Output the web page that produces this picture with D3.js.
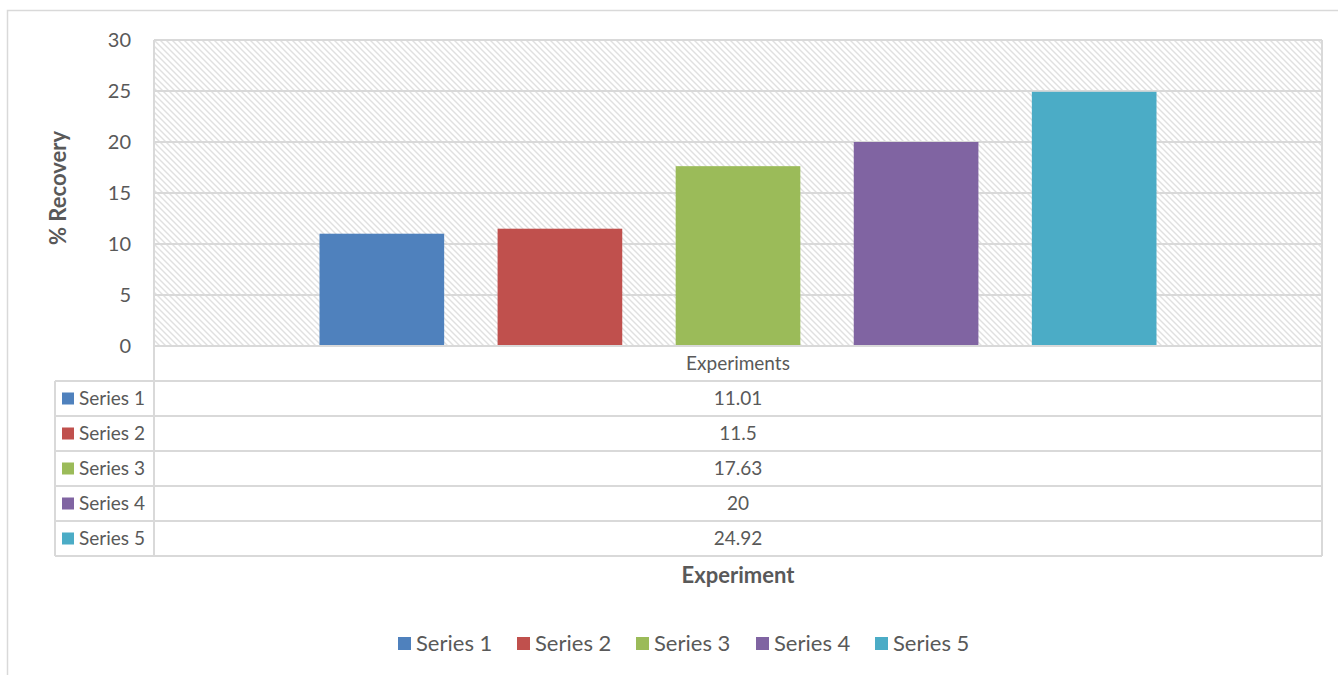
<!DOCTYPE html>
<html>
<head>
<meta charset="utf-8">
<script src="https://cdn.jsdelivr.net/npm/d3@7"></script>
<style>
  body { margin: 0; background: #fff; }
  text { font-family: Lato, "Open Sans", sans-serif; fill: #595959; }
</style>
</head>
<body>
<div id="target"></div>
<script>
// chart data
let category = "Experiments"
let seriesNames = ["Series 1", "Series 2", "Series 3", "Series 4", "Series 5"]
let seriesValues = [11.01, 11.5, 17.63, 20, 24.92]
let seriesColors = ["#4f81bd", "#c0504d", "#9bbb59", "#8064a2", "#4bacc6"]
let yTicks = [0, 5, 10, 15, 20, 25, 30]

let width = 1338, height = 675
let plot = { left: 154, right: 1322, top: 40, bottom: 346 }
let rowH = 35
let tableLeft = 55

let svg = d3.select("#target").append("svg")
    .attr("width", width)
    .attr("height", height)

// hatch pattern for plot background
let defs = svg.append("defs")
let pat = defs.append("pattern")
    .attr("id", "hatch")
    .attr("patternUnits", "userSpaceOnUse")
    .attr("width", 6).attr("height", 6)
pat.append("rect").attr("width", 6).attr("height", 6).attr("fill", "#fff")
pat.append("path")
    .attr("d", "M-1,-1 L7,7 M-7,-1 L1,7 M5,-1 L13,7")
    .attr("stroke", "#e0e0e0").attr("stroke-width", 1.4)

// outer chart border
svg.append("rect")
    .attr("x", 7.5).attr("y", 10.5)
    .attr("width", 1400).attr("height", 700)
    .attr("fill", "none").attr("stroke", "#d9d9d9").attr("stroke-width", 1.5)

let y = d3.scaleLinear().domain([0, 30]).range([plot.bottom, plot.top])
let x0 = d3.scaleBand().domain([category]).range([plot.left, plot.right])
let x1 = d3.scaleBand().domain(seriesNames)
    .range([x0(category) + 165.5, x0(category) + x0.bandwidth() - 165.5])
    .paddingInner(0.3)

svg.append("rect")
    .attr("x", plot.left).attr("y", plot.top)
    .attr("width", plot.right - plot.left).attr("height", plot.bottom - plot.top)
    .attr("fill", "url(#hatch)")

// gridlines
svg.append("g").selectAll("line").data(yTicks).enter().append("line")
    .attr("x1", plot.left).attr("x2", plot.right)
    .attr("y1", d => y(d)).attr("y2", d => y(d))
    .attr("stroke", "#d9d9d9").attr("stroke-width", 2)

// y axis labels
let yAxis = d3.axisLeft(y).tickValues(yTicks).tickSize(0).tickPadding(0)
let ya = svg.append("g").attr("transform", `translate(131,0)`).call(yAxis)
ya.select(".domain").remove()
ya.selectAll("text").style("font-size", "20px").attr("fill", "#595959")
    .style("font-family", "Lato, 'Open Sans', sans-serif")

// bars
svg.append("g").selectAll("rect").data(seriesValues).enter().append("rect")
    .attr("x", (d, i) => x1(seriesNames[i]))
    .attr("width", x1.bandwidth())
    .attr("y", d => y(d))
    .attr("height", d => y(0) - y(d))
    .attr("fill", (d, i) => seriesColors[i])

// data table
let tbl = svg.append("g")
let lineCol = "#d9d9d9"
// horizontal lines
for (let r = 0; r <= 6; r++) {
    let yy = plot.bottom + r * rowH
    tbl.append("line")
        .attr("x1", r === 0 ? plot.left : tableLeft).attr("x2", plot.right)
        .attr("y1", yy).attr("y2", yy)
        .attr("stroke", lineCol).attr("stroke-width", 2)
}
tbl.append("line").attr("x1", plot.left).attr("x2", plot.left)
    .attr("y1", plot.top).attr("y2", plot.bottom + 6 * rowH)
    .attr("stroke", lineCol).attr("stroke-width", 2)
tbl.append("line").attr("x1", plot.right).attr("x2", plot.right)
    .attr("y1", plot.top).attr("y2", plot.bottom + 6 * rowH)
    .attr("stroke", lineCol).attr("stroke-width", 2)
tbl.append("line").attr("x1", tableLeft).attr("x2", tableLeft)
    .attr("y1", plot.bottom + rowH).attr("y2", plot.bottom + 6 * rowH)
    .attr("stroke", lineCol).attr("stroke-width", 2)

let midX = x0(category) + x0.bandwidth() / 2
tbl.append("text").attr("x", midX).attr("y", plot.bottom + rowH / 2)
    .attr("dy", "0.35em").attr("text-anchor", "middle")
    .style("font-size", "19px").text(category)

let rows = tbl.selectAll("g.row").data(seriesValues).enter().append("g")
    .attr("transform", (d, i) => `translate(0,${plot.bottom + (i + 1) * rowH})`)
rows.append("rect").attr("x", 62).attr("y", rowH / 2 - 6)
    .attr("width", 12).attr("height", 12)
    .attr("fill", (d, i) => seriesColors[i])
rows.append("text").attr("x", 79).attr("y", rowH / 2).attr("dy", "0.35em")
    .style("font-size", "19px").text((d, i) => seriesNames[i])
rows.append("text").attr("x", midX).attr("y", rowH / 2).attr("dy", "0.35em")
    .attr("text-anchor", "middle").style("font-size", "19px").text(d => d)

// axis titles
svg.append("text")
    .attr("transform", `translate(58,188) rotate(-90)`)
    .attr("text-anchor", "middle").attr("dy", "0.35em")
    .style("font-size", "22px").style("font-weight", "bold")
    .text("% Recovery")
svg.append("text").attr("x", midX).attr("y", 575).attr("dy", "0.35em")
    .attr("text-anchor", "middle")
    .style("font-size", "22px").style("font-weight", "bold")
    .text("Experiment")

// legend
let legendX = [398, 517, 636, 756, 875]
let lg = svg.append("g").selectAll("g").data(seriesNames).enter().append("g")
    .attr("transform", (d, i) => `translate(${legendX[i]},643)`)
lg.append("rect").attr("x", 0).attr("y", -6).attr("width", 13).attr("height", 13)
    .attr("fill", (d, i) => seriesColors[i])
lg.append("text").attr("x", 18).attr("dy", "0.35em")
    .style("font-size", "22px").text(d => d)
</script>
</body>
</html>
